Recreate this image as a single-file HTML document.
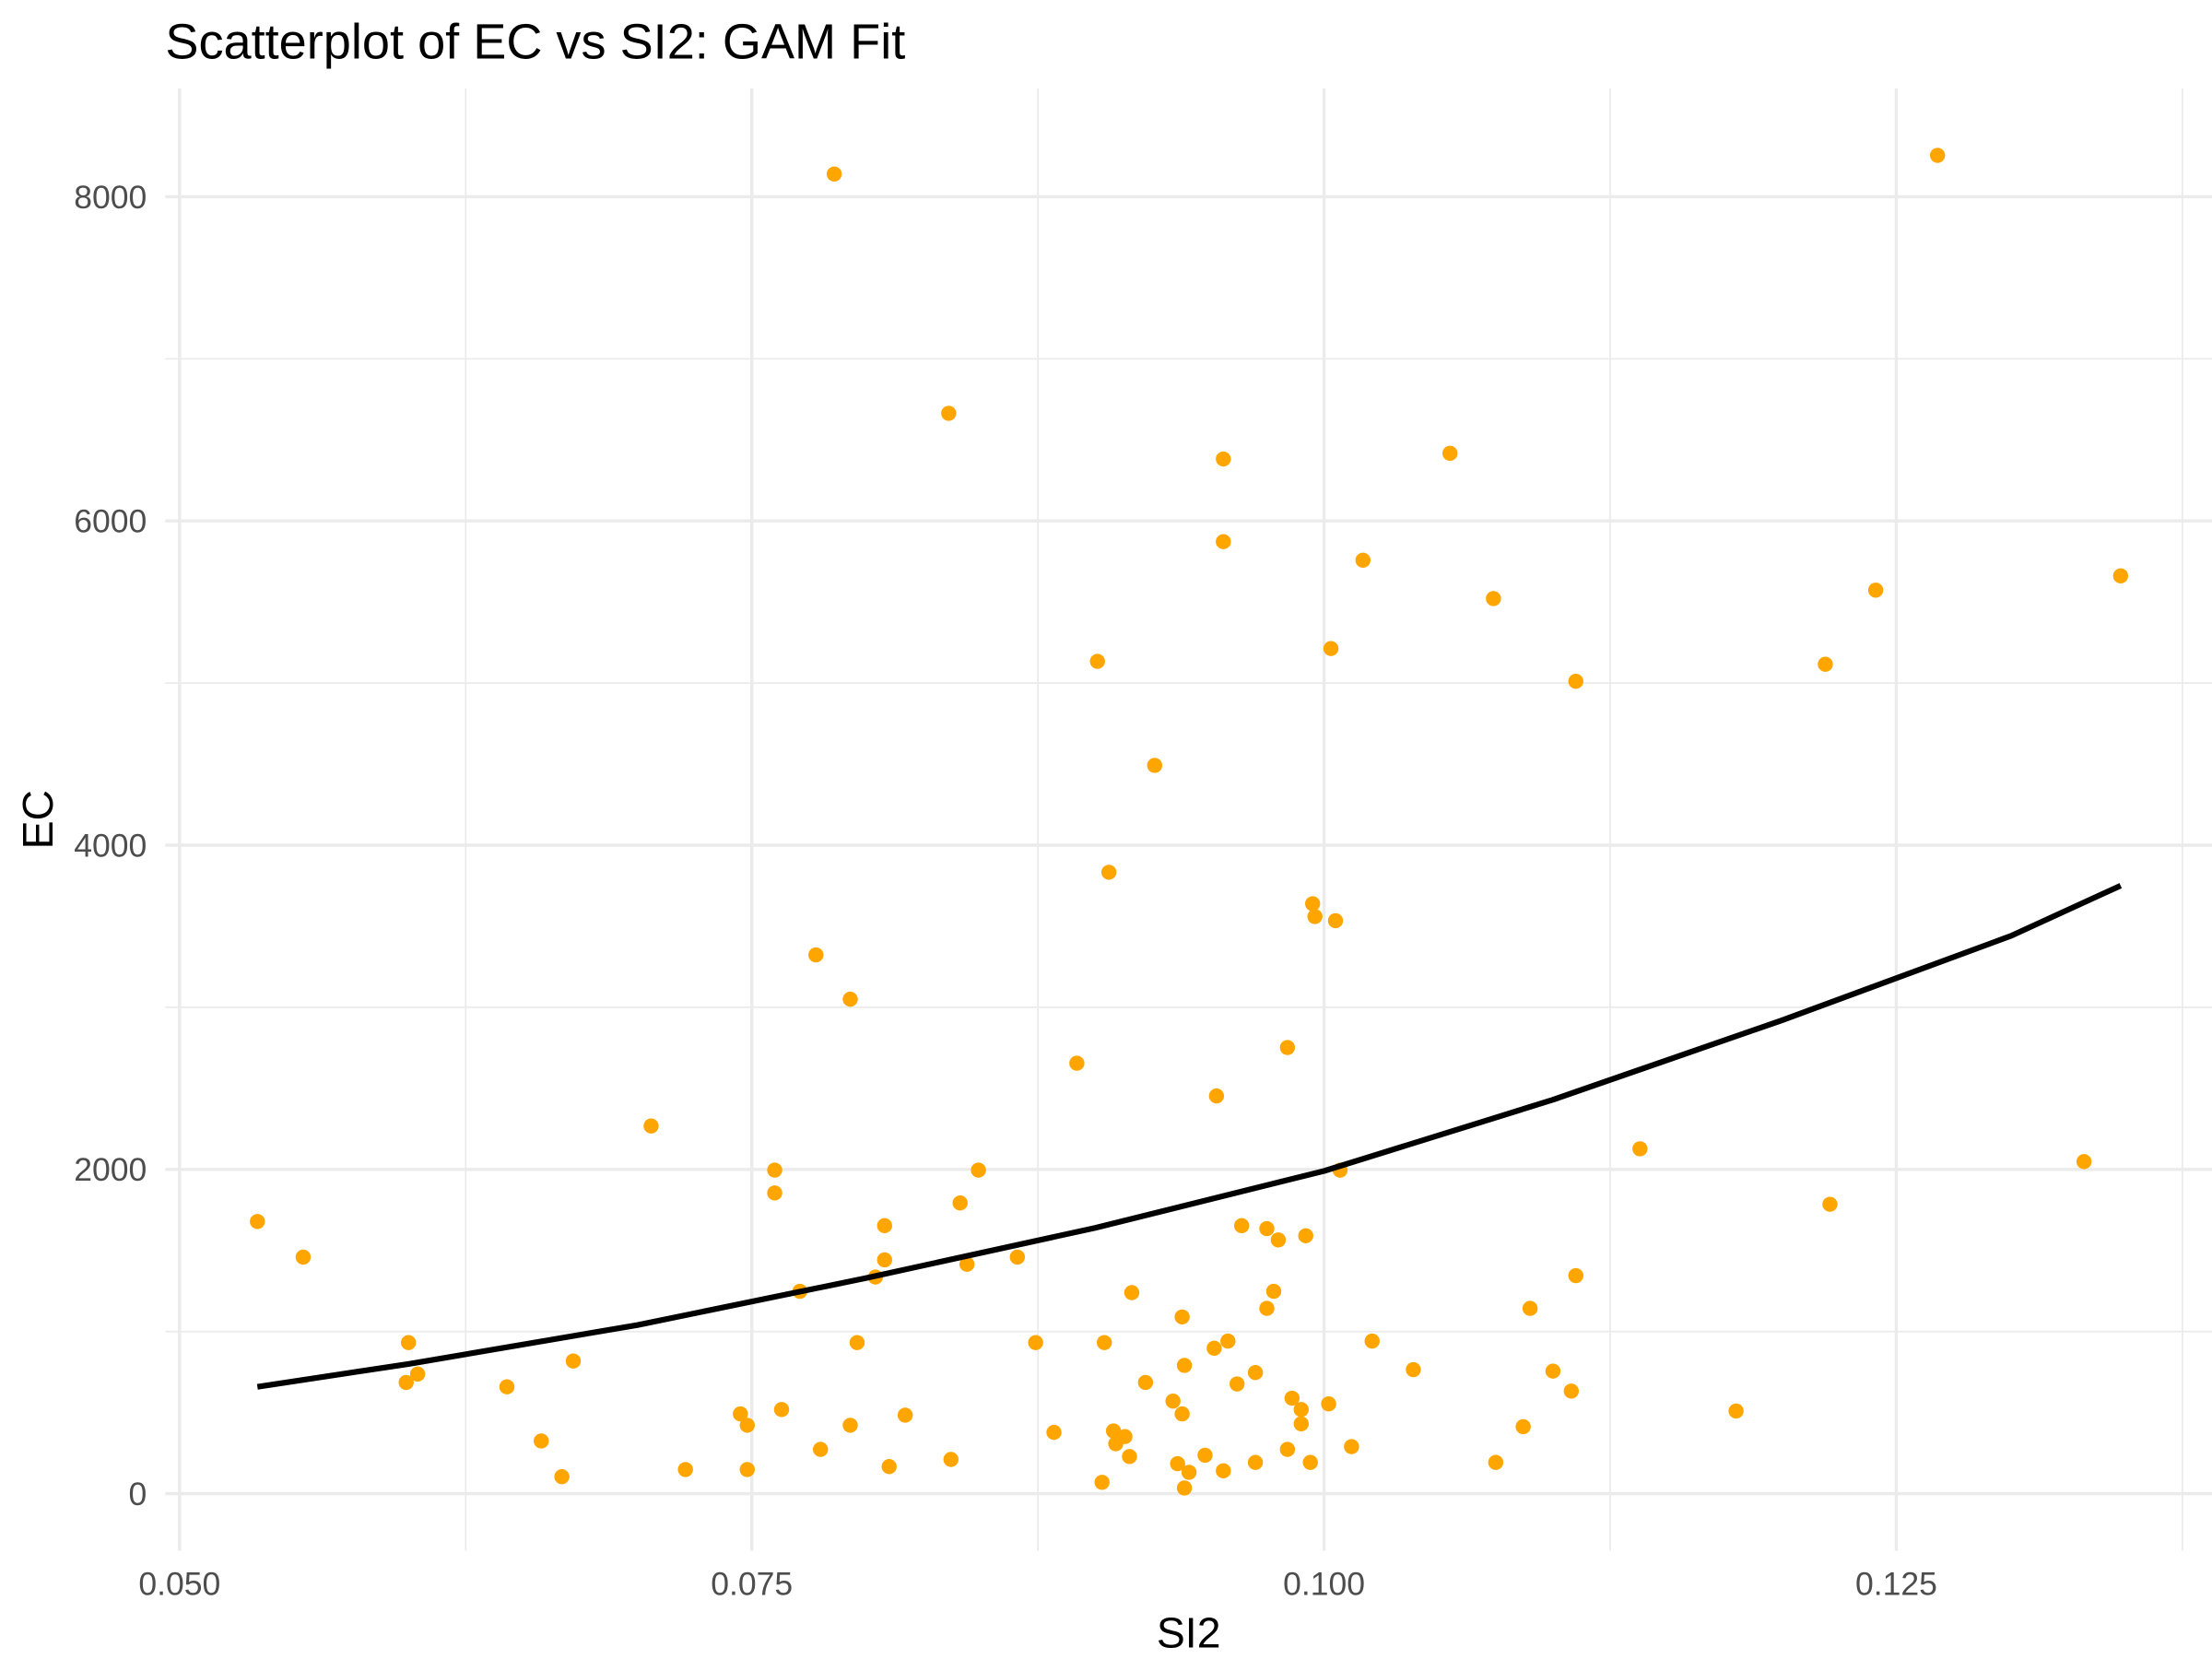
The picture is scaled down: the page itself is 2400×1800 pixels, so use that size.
<!DOCTYPE html>
<html><head><meta charset="utf-8"><style>
html,body{margin:0;padding:0;background:#fff;}
svg{display:block;font-family:"Liberation Sans",Arial,sans-serif;}
</style></head><body>
<svg id="chart" width="2400" height="1800" viewBox="0 0 1552 1164" preserveAspectRatio="none" xmlns="http://www.w3.org/2000/svg">
<rect width="1552" height="1164" fill="#fff"/>
<g id="grid"></g>
<g id="marks"></g>
<g id="axes"></g>
<text x="116" y="41" font-size="35" fill="#000">Scatterplot of EC vs SI2: GAM Fit</text>
<text x="834" y="1156" font-size="30" text-anchor="middle" fill="#000">SI2</text>
<text transform="translate(37,575) rotate(-90)" font-size="30" text-anchor="middle" fill="#000">EC</text>
</svg>
<script>
const xMajor = [0.05, 0.075, 0.1, 0.125];
const xMinor = [0.0625, 0.0875, 0.1125, 0.1375];
const yMajor = [0, 2000, 4000, 6000, 8000];
const yMinor = [1000, 3000, 5000, 7000];
const xTickLabels = ["0.050", "0.075", "0.100", "0.125"];
const yTickLabels = ["0", "2000", "4000", "6000", "8000"];
const si2 = [0.0534,0.0554,0.0600,0.0599,0.0604,0.0643,0.0658,0.0667,0.0672,0.0706,0.0721,0.0745,0.0748,0.0748,0.0760,0.0760,0.0763,0.0771,0.0778,0.0780,0.0786,0.0793,0.0793,0.0796,0.0804,0.0808,0.0808,0.0810,0.0817,0.0836,0.0837,0.0841,0.0844,0.0849,0.0866,0.0874,0.0882,0.0892,0.0901,0.0903,0.0904,0.0906,0.0908,0.0909,0.0913,0.0915,0.0916,0.0922,0.0926,0.0934,0.0936,0.0938,0.0938,0.0939,0.0939,0.0941,0.0948,0.0952,0.0953,0.0956,0.0956,0.0956,0.0958,0.0962,0.0964,0.0970,0.0970,0.0975,0.0975,0.0978,0.0980,0.0984,0.0984,0.0986,0.0990,0.0990,0.0992,0.0994,0.0995,0.0996,0.1002,0.1003,0.1005,0.1007,0.1012,0.1017,0.1021,0.1039,0.1055,0.1074,0.1075,0.1087,0.1090,0.1100,0.1108,0.1110,0.1110,0.1138,0.1180,0.1219,0.1221,0.1241,0.1268,0.1332,0.1348];
const ec = [1679,1459,932,686,738,659,325,105,818,2268,149,492,422,149,1996,1855,519,1248,3323,273,8140,422,3050,932,1336,1442,1653,167,484,6664,211,1793,1415,1996,1459,932,378,2655,5134,70,932,3833,387,308,352,229,1240,686,4492,571,185,492,1090,791,35,132,237,897,2453,6382,5872,141,941,677,1653,747,193,1143,1635,1248,1565,2752,273,589,519,431,1591,193,3639,3560,554,5213,3534,1996,290,5758,941,765,6417,5521,193,413,1143,756,633,5011,1345,2127,510,5116,1785,5573,8255,2048,5661];
const fitX = [0.0534,0.06,0.07,0.08,0.09,0.1,0.11,0.12,0.13,0.1348];
const fitY = [659,800,1040,1330,1640,1990,2430,2920,3440,3750];

const NS = "http://www.w3.org/2000/svg";
const L = 116, R = 1552, T = 62, B = 1088;
function sx(v){ return 126 + (v - 0.05) / 0.025 * 401.5; }
function sy(v){ return 1048 - v / 2000 * 227.5; }
function mk(tag, attrs, parent){ const e = document.createElementNS(NS, tag); for (const k in attrs) e.setAttribute(k, attrs[k]); parent.appendChild(e); return e; }
const grid = document.getElementById('grid'), marks = document.getElementById('marks'), axes = document.getElementById('axes');
yMinor.forEach(v => { const e = mk('line', {x1:L, x2:R, y1:sy(v), y2:sy(v), stroke:'#ebebeb', 'stroke-width':1.1}, grid);

 });
xMinor.forEach(v => { const e = mk('line', {x1:sx(v), x2:sx(v), y1:T, y2:B, stroke:'#ebebeb', 'stroke-width':1.1}, grid);

 });
yMajor.forEach((v, i) => { const e = mk('line', {x1:L, x2:R, y1:sy(v), y2:sy(v), stroke:'#ebebeb', 'stroke-width':2.2}, grid);


const t = mk('text', {x:103, y:sy(v)+8, 'text-anchor':'end', 'font-size':23, fill:'#4d4d4d'}, axes);
t.textContent = yTickLabels[i];

 });
xMajor.forEach((v, i) => { const e = mk('line', {x1:sx(v), x2:sx(v), y1:T, y2:B, stroke:'#ebebeb', 'stroke-width':2.2}, grid);


const t = mk('text', {x:sx(v), y:1119, 'text-anchor':'middle', 'font-size':23, fill:'#4d4d4d'}, axes);
t.textContent = xTickLabels[i];

 });
si2.forEach((v, i) => { const c = mk('circle', {cx:sx(v), cy:sy(ec[i]), r:5.3, fill:'#ffa500'}, marks);

 });
const d = fitX.map((v, i) => (i ? 'L' : 'M') + sx(v).toFixed(1) + ',' + sy(fitY[i]).toFixed(1)).join(' ');
const p = mk('path', {d:d, fill:'none', stroke:'#000', 'stroke-width':4, 'stroke-linejoin':'round'}, marks);


</script>
</body></html>
